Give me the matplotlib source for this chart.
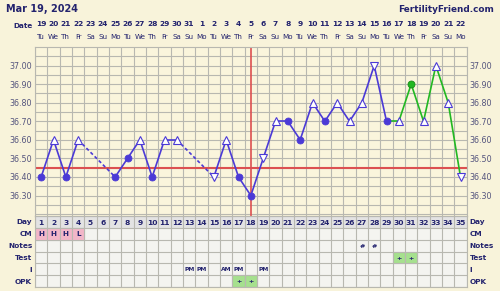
import matplotlib
matplotlib.use("Agg")
import matplotlib.pyplot as plt
import matplotlib.transforms as mtrans
from matplotlib.patches import Rectangle
import numpy as np

# dados do gráfico
dias = list(range(1, 36))
temps = [36.40, 36.60, 36.40, 36.60, np.nan, np.nan, 36.40, 36.50, 36.60, 36.40,
         36.60, 36.60, np.nan, np.nan, 36.40, 36.60, 36.40, 36.30, 36.50, 36.70,
         36.70, 36.60, 36.80, 36.70, 36.80, 36.70, 36.80, 37.00, 36.70, 36.70,
         36.90, 36.70, 37.00, 36.80, 36.40]
marcas = ["o", "^", "o", "^", "", "", "o", "o", "^", "o",
          "^", "^", "", "", "v", "^", "o", "o", "v", "^",
          "o", "o", "^", "o", "^", "^", "^", "v", "o", "^",
          "o", "^", "^", "^", "v"]
datas = ["19", "20", "21", "22", "23", "24", "25", "26", "27", "28", "29", "30", "31",
         "1", "2", "3", "4", "5", "6", "7", "8", "9", "10", "11", "12", "13", "14",
         "15", "16", "17", "18", "19", "20", "21", "22"]
semana = ["Tu", "We", "Th", "Fr", "Sa", "Su", "Mo"] * 5
linha_base = 36.45
dia_ovulacao = 18
inicio_verde = 29
linhas_tabela = ["Day", "CM", "Notes", "Test", "I", "OPK"]
cm_dias = [1, 2, 3, 4]
cm_vals = ["H", "H", "H", "L"]
notas_dias = [27, 28]
teste_dias = [30, 31]
i_dias = [13, 14, 16, 17, 19]
i_vals = ["PM", "PM", "AM", "PM", "PM"]
opk_dias = [17, 18]

# cores
FUNDO = "#F8F3DA"
FUNDO_GRAF = "#FAF5DC"
GRADE = "#B8B8B0"
AZUL = "#4B3AD6"
VERDE = "#22B822"
VERMELHO = "#DC5050"
TEXTO = "#23236E"
ROTULO = "#55557E"
CELULA = "#F4F4F0"
CELULA_DIA = "#E3E3E3"
ROSA = "#F2B6C8"
VERDE_CEL = "#A6E08E"

W, H = 500, 291
fig = plt.figure(figsize=(W / 100, H / 100), dpi=100, facecolor=FUNDO)


def ret(x0, y0, x1, y1):
    return [x0 / W, 1 - y1 / H, (x1 - x0) / W, (y1 - y0) / H]


# --- gráfico de temperatura
ax = fig.add_axes(ret(35, 47, 466.7, 216))
ax.set_facecolor(FUNDO_GRAF)
ax.set_xlim(0.5, 35.5)
ax.set_ylim(36.19, 37.10)
ax.set_xticks(np.arange(0.5, 36, 1))
ax.set_yticks(np.arange(36.30, 37.01, 0.10))
ax.set_yticks(np.arange(36.20, 37.06, 0.05), minor=True)
ax.set_yticklabels([f"{v:.2f}" for v in np.arange(36.30, 37.01, 0.10)])
ax.grid(which="both", color=GRADE, lw=0.8)
ax.set_axisbelow(True)
ax.tick_params(axis="both", which="both", length=0)
ax.tick_params(axis="x", labelbottom=False)
ax.tick_params(axis="y", labelleft=True, labelright=True, labelsize=5.8,
               labelcolor=ROTULO, pad=2)
for s in ax.spines.values():
    s.set_color(GRADE)
    s.set_linewidth(0.8)

ax.axhline(linha_base, color=VERMELHO, lw=1.5, zorder=2)
ax.axvline(dia_ovulacao, color=VERMELHO, lw=1.2, zorder=2)

validos = [d for d, t in zip(dias, temps) if not np.isnan(t)]
for a, b in zip(validos[:-1], validos[1:]):
    cor = VERDE if a >= inicio_verde else AZUL
    estilo = "--" if b - a > 1 else "-"
    ax.plot([a, b], [temps[a - 1], temps[b - 1]], color=cor, lw=1.2,
            ls=estilo, dashes=(2, 1.5) if estilo == "--" else (None, None),
            zorder=3)

for d, t, m in zip(dias, temps, marcas):
    if not m:
        continue
    if m == "o":
        cor = VERDE if d > inicio_verde else AZUL
        borda = "#188A18" if d > inicio_verde else AZUL
        ax.plot(d, t, marker="o", ms=5, color=cor, mec=borda, mew=0.6, zorder=4)
    else:
        ax.plot(d, t, marker=m, ms=5.4, mfc="white", mec=AZUL, mew=0.8, zorder=4)

# cabeçalho de datas
tr = mtrans.blended_transform_factory(ax.transData, fig.transFigure)
for d, n, s in zip(dias, datas, semana):
    ax.text(d, 1 - 24 / H, n, transform=tr, ha="center", va="center",
            fontsize=5.4, fontweight="bold", color=TEXTO)
    ax.text(d, 1 - 37 / H, s, transform=tr, ha="center", va="center",
            fontsize=5.1, color=TEXTO)
fig.text(33 / W, 1 - 26 / H, "Date", ha="right", va="center", fontsize=5.2,
         fontweight="bold", color=TEXTO)
fig.text(6 / W, 1 - 9 / H, "Mar 19, 2024", ha="left", va="center", fontsize=7,
         fontweight="bold", color=TEXTO)
fig.text(494 / W, 1 - 9 / H, "FertilityFriend.com", ha="right", va="center",
         fontsize=6.4, fontweight="bold", color=TEXTO)

# --- tabela
tb = fig.add_axes(ret(35, 216, 466.7, 287))
tb.set_facecolor(CELULA)
tb.set_xlim(0.5, 35.5)
tb.set_ylim(6, 0)
tb.set_xticks(np.arange(0.5, 36, 1))
tb.set_yticks(np.arange(0, 7, 1), minor=False)
tb.grid(color=GRADE, lw=0.8)
tb.set_axisbelow(True)
tb.set_yticks(np.arange(6) + 0.5, minor=True)
tb.set_yticklabels(linhas_tabela, minor=True)
tb.tick_params(axis="both", which="both", length=0, labelbottom=False)
tb.tick_params(axis="y", which="major", labelleft=False)
tb.tick_params(axis="y", which="minor", labelleft=True, labelright=True,
               labelsize=5.3, labelcolor=TEXTO, pad=2)
for lab in tb.get_yticklabels(minor=True):
    lab.set_fontweight("bold")
for s in tb.spines.values():
    s.set_color(GRADE)
    s.set_linewidth(0.8)

tb.add_patch(Rectangle((0.5, 0), 35, 1, facecolor=CELULA_DIA, edgecolor="none", zorder=0))
for d in dias:
    tb.text(d, 0.55, str(d), ha="center", va="center", fontsize=5.4,
            fontweight="bold", color=TEXTO)


def celula(d, linha, txt, cor=None, tam=5):
    if cor:
        tb.add_patch(Rectangle((d - 0.5, linha), 1, 1, facecolor=cor,
                               edgecolor=GRADE, lw=0.8, zorder=1))
    tb.text(d, linha + 0.55, txt, ha="center", va="center", fontsize=tam,
            fontweight="bold", color=TEXTO, zorder=2)


for d, v in zip(cm_dias, cm_vals):
    celula(d, 1, v, ROSA, tam=5.2)
for d in notas_dias:
    celula(d, 2, "#", tam=4.6)
for d in teste_dias:
    celula(d, 3, "+", VERDE_CEL, tam=4.6)
for d, v in zip(i_dias, i_vals):
    celula(d, 4, v, tam=4.3)
for d in opk_dias:
    celula(d, 5, "+", VERDE_CEL, tam=4.6)

fig.savefig("out.png", dpi=100, facecolor=FUNDO)
